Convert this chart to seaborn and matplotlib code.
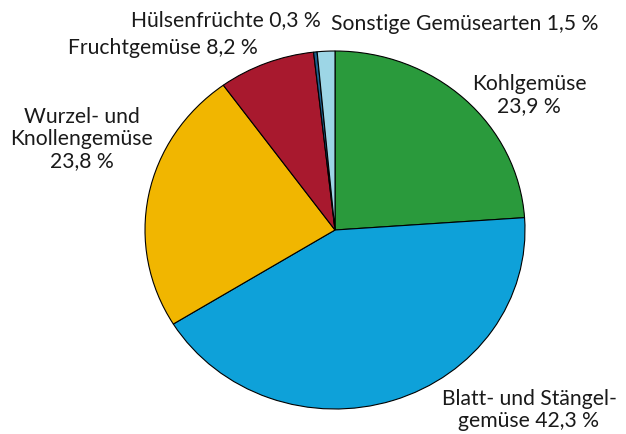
import matplotlib
matplotlib.use("Agg")
import matplotlib.pyplot as plt
import seaborn as sns

categories = ["Kohlgemüse", "Blatt- und Stängelgemüse", "Wurzel- und Knollengemüse",
              "Fruchtgemüse", "Hülsenfrüchte", "Sonstige Gemüsearten"]
values = [23.9, 42.3, 23.8, 8.2, 0.3, 1.5]
colors = ["#2a9a3c", "#0ea1d9", "#f1b600", "#a8192e", "#1d5f8c", "#9dd6e6"]
label_texts = ["Kohlgemüse\n23,9 %", "Blatt- und Stängel-\ngemüse 42,3 %",
               "Wurzel- und\nKnollengemüse\n23,8 %", "Fruchtgemüse 8,2 %",
               "Hülsenfrüchte 0,3 %", "Sonstige Gemüsearten 1,5 %"]

sns.set_theme(style="white")
plt.rcParams['font.family'] = ['Lato', 'DejaVu Sans']

W, H = 626, 434
fig = plt.figure(figsize=(W / 100, H / 100), dpi=100)
ax = fig.add_axes([145 / W, 25 / H, 380 / W, 358 / H])
ax.pie(values, colors=colors, startangle=90, counterclock=False,
       wedgeprops=dict(edgecolor="black", linewidth=0.8))
ax.set_aspect("auto")
ax.set_xlim(-1.0, 1.0)
ax.set_ylim(-1.0, 1.0)
ax.axis("off")

# label positions (pixel centers)
pos = [(529, 95), (529, 410), (82, 139), (163, 48), (226, 20), (465, 24)]
for t, (x, y) in zip(label_texts, pos):
    fig.text(x / W, 1 - y / H, t, ha="center", va="center", fontsize=15.2,
             color="#1a1a1a", linespacing=1.15, multialignment="center")

fig.savefig("out.png", dpi=100)
